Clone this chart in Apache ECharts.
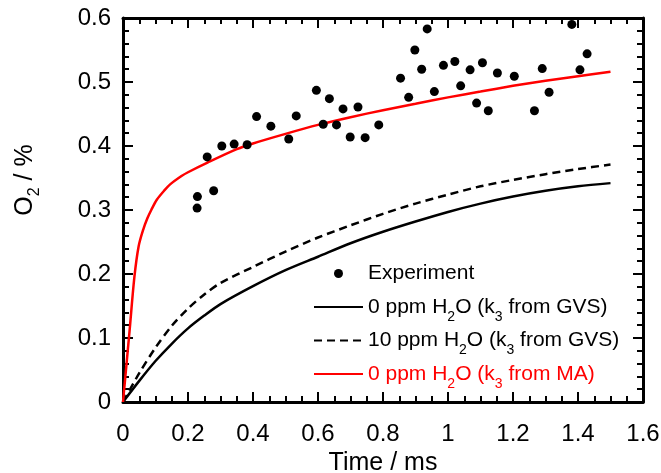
<!DOCTYPE html>
<html>
<head>
<meta charset="utf-8">
<script src="https://cdn.jsdelivr.net/npm/echarts@6/dist/echarts.min.js"></script>
<style>
html,body{margin:0;padding:0;background:#fff;}
#chart{width:661px;height:473px;}
</style>
</head>
<body>
<div id="chart"></div>
<script>
// Experimental points
const expTime = [0.228,0.229,0.259,0.279,0.304,0.342,0.382,0.411,0.455,0.510,0.533,0.595,0.616,0.635,0.657,0.677,0.699,0.723,0.745,0.787,0.854,0.879,0.898,0.919,0.936,0.958,0.986,1.021,1.039,1.068,1.088,1.106,1.124,1.152,1.204,1.266,1.290,1.311,1.381,1.406,1.428];
const expO2   = [0.303,0.321,0.383,0.330,0.400,0.403,0.402,0.446,0.431,0.411,0.447,0.487,0.434,0.474,0.433,0.458,0.414,0.461,0.413,0.433,0.506,0.476,0.550,0.520,0.583,0.485,0.526,0.532,0.494,0.519,0.467,0.530,0.455,0.514,0.509,0.455,0.521,0.484,0.590,0.519,0.544];

// model curves
const gvsTime = [0, 0.05, 0.1, 0.15, 0.2, 0.25, 0.3, 0.4, 0.5, 0.6, 0.7, 0.8, 0.9, 1.0, 1.1, 1.2, 1.3, 1.4, 1.5];
// 0 ppm H2O (k3 from GVS) - solid black
const gvs0O2  = [0, 0.033, 0.064, 0.091, 0.115, 0.135, 0.153, 0.181, 0.206, 0.227, 0.248, 0.266, 0.282, 0.297, 0.310, 0.321, 0.330, 0.337, 0.342];
// 10 ppm H2O (k3 from GVS) - dashed black
const gvs10O2 = [0, 0.045, 0.085, 0.119, 0.146, 0.168, 0.186, 0.211, 0.235, 0.257, 0.276, 0.294, 0.310, 0.324, 0.337, 0.347, 0.356, 0.364, 0.371];

// 0 ppm H2O (k3 from MA) - red
const maTime = [0, 0.01, 0.02, 0.035, 0.048, 0.062, 0.075, 0.087, 0.104, 0.128, 0.145, 0.18, 0.2, 0.26, 0.35, 0.4, 0.5, 0.6, 0.7, 0.8, 0.9, 1.0, 1.1, 1.2, 1.3, 1.4, 1.5];
const maO2   = [0, 0.055, 0.11, 0.195, 0.243, 0.269, 0.287, 0.300, 0.316, 0.331, 0.340, 0.353, 0.359, 0.374, 0.395, 0.404, 0.419, 0.433, 0.445, 0.456, 0.466, 0.476, 0.485, 0.494, 0.502, 0.509, 0.516];

const seriesNames = ['Experiment', '0 ppm H2O (k3 from GVS)', '10 ppm H2O (k3 from GVS)', '0 ppm H2O (k3 from MA)'];
const xTitle = 'Time / ms';

const FONT = "'Liberation Sans', Arial, sans-serif";
const zip = (a, b) => a.map((v, i) => [v, b[i]]);

function legendFmt(name) {
  const red = name.indexOf('MA') >= 0;
  const b = red ? 'r' : 'b', s = red ? 'rs' : 'bs';
  let out = name.split(/(H2O|k3)/).filter(p => p.length).map(p => {
    if (p === 'H2O') return `{${b}|H}{${s}|2}{${b}|O}`;
    if (p === 'k3') return `{${b}|k}{${s}|3}`;
    return `{${b}|${p}}`;
  }).join('');
  if (name.indexOf('H2O') < 0) out += `{${s}| }`;
  return out;
}

const chart = echarts.init(document.getElementById('chart'), null, {renderer: 'canvas'});

const axisCommon = {
  min: 0,
  axisLine: {show: true, onZero: false, lineStyle: {color: '#000', width: 3}},
  axisTick: {show: true, inside: true, length: 10, lineStyle: {color: '#000', width: 2}},
  minorTick: {show: true, length: 6, lineStyle: {color: '#000', width: 2}},
  splitLine: {show: false},
  minorSplitLine: {show: false},
  nameMoveOverlap: false
};

const hideSym = {color: 'rgba(0,0,0,0)', borderColor: 'rgba(0,0,0,0)', borderWidth: 0};

const option = {
  animation: false,
  backgroundColor: '#fff',
  grid: {left: 123, right: 18, top: 18, bottom: 71, containLabel: false, outerBoundsMode: 'none'},
  legend: {
    orient: 'vertical',
    left: 313,
    top: 263,
    padding: 0,
    itemGap: 6,
    itemWidth: 49,
    itemHeight: 9,
    data: [
      {name: seriesNames[0]},
      {name: seriesNames[1], itemStyle: hideSym},
      {name: seriesNames[2], itemStyle: hideSym},
      {name: seriesNames[3], itemStyle: hideSym}
    ],
    formatter: legendFmt,
    textStyle: {
      fontFamily: FONT,
      rich: {
        b: {fontSize: 21, color: '#000', fontFamily: FONT},
        bs: {fontSize: 14, padding: [20, 0, 0, 0], color: '#000', fontFamily: FONT},
        r: {fontSize: 21, color: '#ff0000', fontFamily: FONT},
        rs: {fontSize: 14, padding: [20, 0, 0, 0], color: '#ff0000', fontFamily: FONT}
      }
    }
  },
  xAxis: [
    Object.assign({}, axisCommon, {
      type: 'value', position: 'bottom', max: 1.6, interval: 0.2,
      minorTick: Object.assign({}, axisCommon.minorTick, {splitNumber: 4}),
      axisLabel: {show: true, margin: 20, color: '#000', fontSize: 24, fontFamily: FONT,
        formatter: v => String(Math.round(v * 10) / 10)},
      name: xTitle, nameLocation: 'middle', nameGap: 49,
      nameTextStyle: {fontSize: 25, color: '#000', fontFamily: FONT}
    }),
    Object.assign({}, axisCommon, {
      type: 'value', position: 'top', max: 1.6, interval: 0.2,
      minorTick: Object.assign({}, axisCommon.minorTick, {splitNumber: 4}),
      axisLabel: {show: false}
    })
  ],
  yAxis: [
    Object.assign({}, axisCommon, {
      type: 'value', position: 'left', max: 0.6, interval: 0.1,
      minorTick: Object.assign({}, axisCommon.minorTick, {splitNumber: 5}),
      axisLabel: {show: true, margin: 12, color: '#000', fontSize: 24, fontFamily: FONT,
        formatter: v => String(Math.round(v * 10) / 10)},
      name: '{t|O}{ts|2}{t| / %}', nameLocation: 'middle', nameGap: 80, nameRotate: 90,
      nameTextStyle: {
        color: '#000', fontFamily: FONT, padding: [0, 0, 0, 60],
        rich: {
          t: {fontSize: 25, color: '#000', fontFamily: FONT},
          ts: {fontSize: 16, padding: [20, 0, 0, 0], color: '#000', fontFamily: FONT}
        }
      }
    }),
    Object.assign({}, axisCommon, {
      type: 'value', position: 'right', max: 0.6, interval: 0.1,
      minorTick: Object.assign({}, axisCommon.minorTick, {splitNumber: 5}),
      axisLabel: {show: false}
    })
  ],
  series: [
    {
      name: seriesNames[1], type: 'line', xAxisIndex: 0, yAxisIndex: 0,
      data: zip(gvsTime, gvs0O2), symbol: 'none', showSymbol: false,
      smooth: 0.3,
      lineStyle: {color: '#000', width: 2.5}, itemStyle: {color: '#000'}, z: 2
    },
    {
      name: seriesNames[2], type: 'line', xAxisIndex: 0, yAxisIndex: 0,
      data: zip(gvsTime, gvs10O2), symbol: 'none', showSymbol: false,
      smooth: 0.3,
      lineStyle: {color: '#000', width: 2.5, type: [8, 5]}, itemStyle: {color: '#000'}, z: 2
    },
    {
      name: seriesNames[3], type: 'line', xAxisIndex: 0, yAxisIndex: 0,
      data: zip(maTime, maO2), symbol: 'none', showSymbol: false,
      smooth: 0.3,
      lineStyle: {color: '#ff0000', width: 2.5}, itemStyle: {color: '#ff0000'}, z: 3
    },
    {
      name: seriesNames[0], type: 'scatter', xAxisIndex: 0, yAxisIndex: 0,
      data: zip(expTime, expO2), symbol: 'circle', symbolSize: 9,
      itemStyle: {color: '#000', opacity: 1}, z: 4
    }
  ]
};
chart.setOption(option);
</script>
</body>
</html>
